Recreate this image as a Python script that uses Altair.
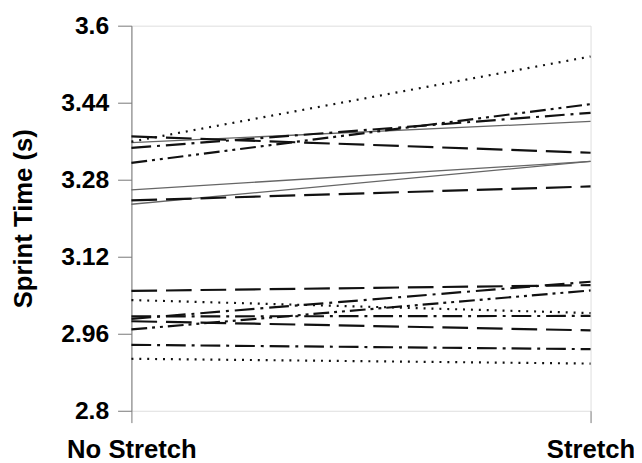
import altair as alt
import pandas as pd

conditions = ["No Stretch", "Stretch"]
subjects = list(range(1, 17))
styles = ["dotted", "longdash", "solid", "dashdot", "dashdotdot", "solid", "longdash", "solid",
          "longdash", "dotted", "dashdot", "dashdotdot", "dashdot", "longdash", "dashdot", "dotted"]
no_stretch = [3.359, 3.370, 3.357, 3.346, 3.315, 3.259, 3.237, 3.229,
              3.049, 3.030, 2.991, 2.969, 2.996, 2.986, 2.937, 2.908]
stretch = [3.536, 3.336, 3.401, 3.419, 3.437, 3.318, 3.266, 3.318,
           3.061, 3.003, 3.068, 3.050, 2.997, 2.967, 2.928, 2.898]
y_ticks = [2.8, 2.96, 3.12, 3.28, 3.44, 3.6]

rows = []
for s, st, a, b in zip(subjects, styles, no_stretch, stretch):
    rows.append({"subject": s, "style": st, "condition": conditions[0], "time": a})
    rows.append({"subject": s, "style": st, "condition": conditions[1], "time": b})
df = pd.DataFrame(rows)

dash_domain = ["dotted", "longdash", "dashdot", "dashdotdot"]
dash_range = [[2, 6], [26, 9], [20, 6, 3, 6], [16, 5, 3, 5, 3, 5]]

x_enc = alt.X("condition:N", sort=conditions,
              scale=alt.Scale(domain=conditions, type="point", padding=0),
              axis=alt.Axis(title=None, domain=False, ticks=True, tickSize=12,
                            tickColor="#777", labelAngle=0, labelFont="Liberation Sans",
                            labelFontWeight="bold", labelFontSize=26, labelColor="#000",
                            labelPadding=14, labelBaseline="top"))
y_enc = alt.Y("time:Q", scale=alt.Scale(domain=[2.8, 3.6], nice=False, zero=False),
              axis=alt.Axis(title="Sprint Time (s)", values=y_ticks, format=".2~f",
                            grid=False, domainColor="#777", tickColor="#777", tickSize=14,
                            labelPadding=9, labelFont="Liberation Sans", labelFontWeight="bold",
                            labelFontSize=25, labelColor="#000", titleFont="Liberation Sans",
                            titleFontWeight="bold", titleFontSize=26, titleColor="#000",
                            titleX=-109, titleBaseline="middle", titleAlign="center"))

solid = alt.Chart(df).transform_filter(alt.datum.style == "solid").mark_line(
    color="#666", strokeWidth=1.3).encode(x=x_enc, y=y_enc, detail="subject:N")

dashed = alt.Chart(df).transform_filter(alt.datum.style != "solid").mark_line(
    color="#111", strokeWidth=2.2).encode(
    x=x_enc, y=y_enc, detail="subject:N",
    strokeDash=alt.StrokeDash("style:N", scale=alt.Scale(domain=dash_domain, range=dash_range),
                              legend=None))

chart = alt.layer(solid, dashed).properties(
    width=465, height=390,
    autosize=alt.AutoSizeParams(type="none"),
    padding={"left": 125, "top": 15, "right": 44, "bottom": 50},
).configure_view(stroke=None).configure(background="white")

chart.save("out.html", embed_options={"renderer": "svg", "actions": False})
